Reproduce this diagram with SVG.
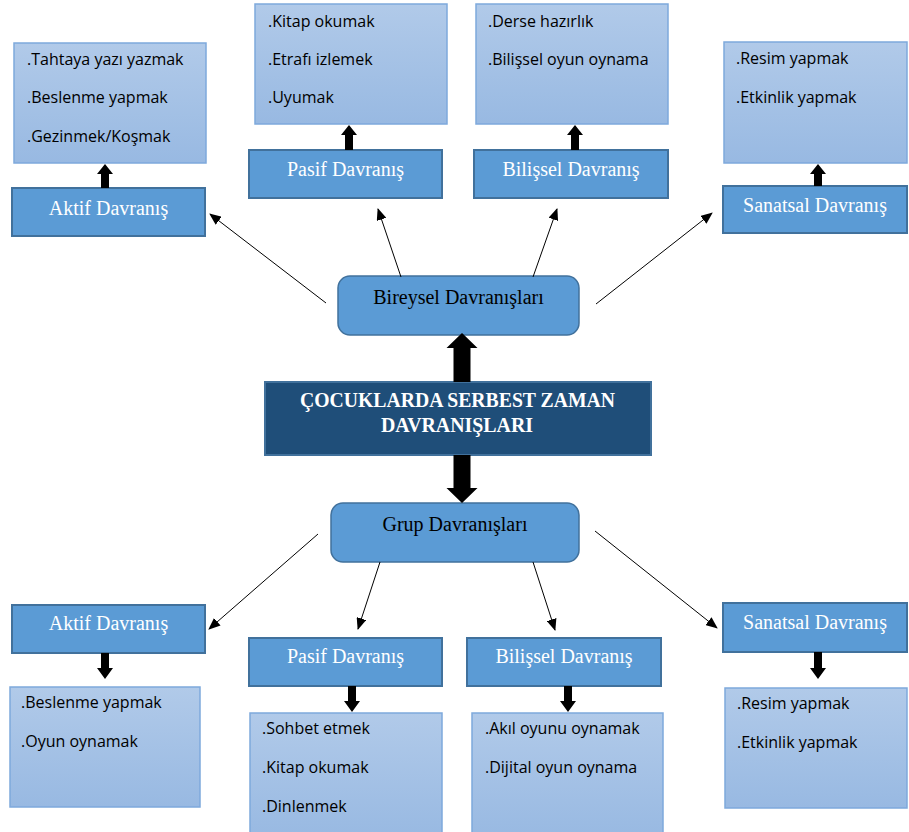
<svg xmlns="http://www.w3.org/2000/svg" width="909" height="832" viewBox="0 0 909 832">
<defs>
<linearGradient id="lg" x1="0" y1="0" x2="0" y2="1">
<stop offset="0" stop-color="#B1CAE9"/>
<stop offset="1" stop-color="#98B9E2"/>
</linearGradient>
<marker id="ah" markerWidth="12" markerHeight="10" refX="11" refY="5" orient="auto" markerUnits="userSpaceOnUse">
<path d="M0,0 L12,5 L0,10 Z" fill="#000"/>
</marker>
<style>
.list{fill:url(#lg);stroke:#7EA9DC;stroke-width:1.5}
.cat{fill:#5B9BD5;stroke:#41719C;stroke-width:2}
.main{fill:#1F4E79;stroke:#41719C;stroke-width:2}
.rnd{fill:#5B9BD5;stroke:#41719C;stroke-width:1.5}
.li{font-family:"Open Sans","Liberation Sans",sans-serif;font-size:16px;fill:#000}
.ct{font-family:"Liberation Serif","Times New Roman",serif;font-size:20px;fill:#fff;text-anchor:middle}
.bt{font-family:"Liberation Serif","Times New Roman",serif;font-size:20px;fill:#000;text-anchor:middle}
.tt{font-family:"Liberation Serif","Times New Roman",serif;font-size:21px;font-weight:bold;fill:#fff;text-anchor:middle}
.thin{stroke:#000;stroke-width:1;fill:none;marker-end:url(#ah)}
.thick{fill:#000}
</style>
</defs>
<rect width="909" height="832" fill="#fff"/>

<!-- top list boxes -->
<g id="list-top-aktif">
<rect class="list" x="14" y="43" width="192" height="120"/>
<text class="li" x="27" y="65">.Tahtaya yazı yazmak</text>
<text class="li" x="27" y="103">.Beslenme yapmak</text>
<text class="li" x="27" y="142">.Gezinmek/Koşmak</text>
</g>
<g id="list-top-pasif">
<rect class="list" x="255" y="4" width="192" height="120"/>
<text class="li" x="268" y="27">.Kitap okumak</text>
<text class="li" x="268" y="65">.Etrafı izlemek</text>
<text class="li" x="268" y="103">.Uyumak</text>
</g>
<g id="list-top-bilissel">
<rect class="list" x="476" y="4" width="192" height="120"/>
<text class="li" x="488" y="27">.Derse hazırlık</text>
<text class="li" x="488" y="65">.Bilişsel oyun oynama</text>
</g>
<g id="list-top-sanatsal">
<rect class="list" x="724" y="42" width="183" height="121"/>
<text class="li" x="736" y="64">.Resim yapmak</text>
<text class="li" x="736" y="103">.Etkinlik yapmak</text>
</g>

<!-- top category boxes -->
<g id="top-aktif">
<rect class="cat" x="12" y="188" width="193" height="48"/>
<text class="ct" x="108.5" y="215">Aktif Davranış</text>
</g>
<g id="top-pasif">
<rect class="cat" x="249" y="150" width="193" height="48"/>
<text class="ct" x="345.5" y="176">Pasif Davranış</text>
</g>
<g id="top-bilissel">
<rect class="cat" x="474" y="150" width="194" height="48"/>
<text class="ct" x="571" y="176">Bilişsel Davranış</text>
</g>
<g id="top-sanatsal">
<rect class="cat" x="723" y="186" width="184" height="47"/>
<text class="ct" x="815" y="212">Sanatsal Davranış</text>
</g>

<!-- center -->
<g id="bireysel">
<rect class="rnd" x="338" y="276" width="241" height="59" rx="12"/>
<text class="bt" x="458.5" y="304">Bireysel Davranışları</text>
</g>
<g id="main">
<rect class="main" x="265" y="382" width="386" height="73"/>
<text class="tt" x="457.5" y="407" textLength="315" lengthAdjust="spacingAndGlyphs">ÇOCUKLARDA SERBEST ZAMAN</text>
<text class="tt" x="457" y="432" textLength="152" lengthAdjust="spacingAndGlyphs">DAVRANIŞLARI</text>
</g>
<g id="grup">
<rect class="rnd" x="331" y="503" width="248" height="59" rx="12"/>
<text class="bt" x="455" y="531">Grup Davranışları</text>
</g>

<!-- bottom category boxes -->
<g id="bot-aktif">
<rect class="cat" x="12" y="605" width="193" height="48"/>
<text class="ct" x="108.5" y="630">Aktif Davranış</text>
</g>
<g id="bot-pasif">
<rect class="cat" x="249" y="638" width="193" height="48"/>
<text class="ct" x="345.5" y="663">Pasif Davranış</text>
</g>
<g id="bot-bilissel">
<rect class="cat" x="467" y="638" width="194" height="48"/>
<text class="ct" x="564" y="663">Bilişsel Davranış</text>
</g>
<g id="bot-sanatsal">
<rect class="cat" x="723" y="603" width="184" height="49"/>
<text class="ct" x="815" y="629">Sanatsal Davranış</text>
</g>

<!-- bottom list boxes -->
<g id="list-bot-aktif">
<rect class="list" x="10" y="687" width="190" height="120"/>
<text class="li" x="21" y="708">.Beslenme yapmak</text>
<text class="li" x="21" y="747">.Oyun oynamak</text>
</g>
<g id="list-bot-pasif">
<rect class="list" x="250" y="713" width="192" height="125"/>
<text class="li" x="262" y="734">.Sohbet etmek</text>
<text class="li" x="262" y="773">.Kitap okumak</text>
<text class="li" x="262" y="812">.Dinlenmek</text>
</g>
<g id="list-bot-bilissel">
<rect class="list" x="472" y="713" width="191" height="125"/>
<text class="li" x="485" y="734">.Akıl oyunu oynamak</text>
<text class="li" x="485" y="773">.Dijital oyun oynama</text>
</g>
<g id="list-bot-sanatsal">
<rect class="list" x="725" y="688" width="182" height="120"/>
<text class="li" x="737" y="709">.Resim yapmak</text>
<text class="li" x="737" y="748">.Etkinlik yapmak</text>
</g>

<!-- connectors -->
<g id="connectors">
<line class="thin" x1="326" y1="303" x2="210" y2="214"/>
<line class="thin" x1="401" y1="277" x2="378" y2="209"/>
<line class="thin" x1="533" y1="277" x2="557" y2="209"/>
<line class="thin" x1="596" y1="304" x2="712" y2="213"/>
<line class="thin" x1="318" y1="534" x2="209" y2="629"/>
<line class="thin" x1="380" y1="562" x2="358" y2="629"/>
<line class="thin" x1="533" y1="562" x2="555" y2="630"/>
<line class="thin" x1="595" y1="531" x2="717" y2="628"/>
<!-- big arrows -->
<path class="thick" d="M453.5,382 L453.5,348 L446.5,348 L462,333 L477.5,348 L470.5,348 L470.5,382 Z"/>
<path class="thick" d="M453.5,455 L470.5,455 L470.5,488 L477.5,488 L462,503 L446.5,488 L453.5,488 Z"/>
<!-- small thick arrows up -->
<path class="thick" d="M101,188 L101,174 L97,174 L105,164 L113,174 L109,174 L109,188 Z"/>
<path class="thick" d="M345,150 L345,135 L341,135 L349,125 L357,135 L353,135 L353,150 Z"/>
<path class="thick" d="M571,150 L571,135 L567,135 L575,125 L583,135 L579,135 L579,150 Z"/>
<path class="thick" d="M814,186 L814,174 L810,174 L818,164 L826,174 L822,174 L822,186 Z"/>
<!-- small thick arrows down -->
<path class="thick" d="M101,653 L109,653 L109,668 L113,668 L105,679 L97,668 L101,668 Z"/>
<path class="thick" d="M348,686 L356,686 L356,701 L360,701 L352,712 L344,701 L348,701 Z"/>
<path class="thick" d="M564,686 L572,686 L572,701 L576,701 L568,712 L560,701 L564,701 Z"/>
<path class="thick" d="M814,652 L822,652 L822,668 L826,668 L818,679 L810,668 L814,668 Z"/>
</g>
</svg>
